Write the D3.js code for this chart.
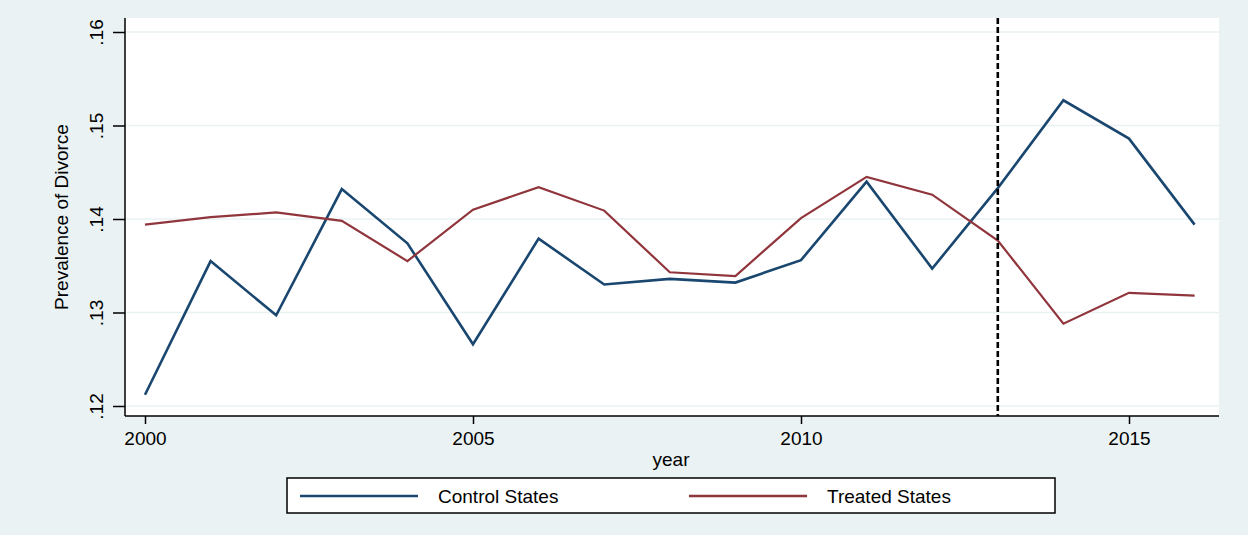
<!DOCTYPE html>
<html><head><meta charset="utf-8">
<script src="https://cdn.jsdelivr.net/npm/d3@7"></script>
<style>html,body{margin:0;padding:0;background:#eaf2f3;}svg{display:block;font-family:"Liberation Sans",Arial,sans-serif;}</style>
</head><body>
<svg id="c" width="1248" height="535"></svg>
<script>
const years = [2000,2001,2002,2003,2004,2005,2006,2007,2008,2009,2010,2011,2012,2013,2014,2015,2016];
const control = [0.1212,0.1355,0.1297,0.1432,0.1374,0.1266,0.1379,0.1330,0.1336,0.1332,0.1356,0.1440,0.1347,0.1433,0.1527,0.1486,0.1394];
const treated = [0.1394,0.1402,0.1407,0.1398,0.1355,0.1410,0.1434,0.1409,0.1343,0.1339,0.1401,0.1445,0.1426,0.1377,0.1288,0.1321,0.1318];
const yTicks = [0.12,0.13,0.14,0.15,0.16];
const yTickLabels = [".12",".13",".14",".15",".16"];
const xTicks = [2000,2005,2010,2015];
const treatmentYear = 2013;
const seriesNames = ["Control States","Treated States"];

const svg = d3.select("#c");
const plot = {l:125, r:1219, t:18, b:416};
const x = d3.scaleLinear().domain([2000,2015]).range([145,1129]);
const y = d3.scaleLinear().domain([0.12,0.16]).range([406,32]);
const FS = 19;

svg.append("rect").attr("x",0).attr("y",0).attr("width",1248).attr("height",535).attr("fill","#eaf2f3");
svg.append("rect").attr("x",plot.l).attr("y",plot.t).attr("width",plot.r-plot.l).attr("height",plot.b-plot.t).attr("fill","#ffffff");

// gridlines
svg.append("g").selectAll("line").data(yTicks).join("line")
  .attr("x1",plot.l).attr("x2",plot.r).attr("y1",d=>y(d)).attr("y2",d=>y(d))
  .attr("stroke","#eaf2f3").attr("stroke-width",1.5);

// y axis
const yAxis = d3.axisLeft(y).tickValues(yTicks).tickFormat((d,i)=>yTickLabels[i]).tickSize(12).tickPadding(6);
const gy = svg.append("g").attr("transform",`translate(${plot.l},0)`).call(yAxis);
gy.select(".domain").attr("d",`M0,${plot.t}V${plot.b}`).attr("stroke","#000").attr("stroke-width",1.5);
gy.selectAll(".tick line").attr("stroke","#000").attr("stroke-width",1.5);
gy.selectAll(".tick text").attr("font-size",FS).attr("fill","#000")
  .attr("transform","rotate(-90)").attr("x",0).attr("y",-22).attr("dy","0").attr("text-anchor","middle");

// x axis
const xAxis = d3.axisBottom(x).tickValues(xTicks).tickFormat(d3.format("d")).tickSize(8).tickPadding(8);
const gx = svg.append("g").attr("transform",`translate(0,${plot.b})`).call(xAxis);
gx.select(".domain").attr("d",`M${plot.l},0H${plot.r}`).attr("stroke","#000").attr("stroke-width",1.5);
gx.selectAll(".tick line").attr("stroke","#000").attr("stroke-width",1.5);
gx.selectAll(".tick text").attr("font-size",FS).attr("fill","#000").attr("dy","0.7em");

// axis titles
svg.append("text").attr("transform",`translate(68,${(plot.t+plot.b)/2+0}) rotate(-90)`)
  .attr("text-anchor","middle").attr("font-size",FS).attr("fill","#000").text("Prevalence of Divorce");
svg.append("text").attr("x",671).attr("y",466).attr("text-anchor","middle").attr("font-size",FS).attr("fill","#000").text("year");

// lines
const line = d3.line().x((d,i)=>x(years[i])).y(d=>y(d));
svg.append("path").datum(control).attr("d",line).attr("fill","none").attr("stroke","#1a476f").attr("stroke-width",2.6).attr("stroke-linejoin","miter");
svg.append("path").datum(treated).attr("d",line).attr("fill","none").attr("stroke","#90353b").attr("stroke-width",2.2).attr("stroke-linejoin","miter");

// dashed treatment line
svg.append("line").attr("x1",x(treatmentYear)).attr("x2",x(treatmentYear)).attr("y1",plot.t).attr("y2",plot.b)
  .attr("stroke","#000").attr("stroke-width",2.6).attr("stroke-dasharray","6,3");

// legend
svg.append("rect").attr("x",287).attr("y",478).attr("width",768).attr("height",35)
  .attr("fill","#fff").attr("stroke","#000").attr("stroke-width",1.5);
const legCols = ["#1a476f","#90353b"];
const legX = [300,689];
seriesNames.forEach((n,i)=>{
  svg.append("line").attr("x1",legX[i]).attr("x2",legX[i]+118).attr("y1",496).attr("y2",496)
    .attr("stroke",legCols[i]).attr("stroke-width",2.6);
  svg.append("text").attr("x",legX[i]+138).attr("y",503).attr("font-size",FS).attr("fill","#000").text(n);
});
</script>
</body></html>
